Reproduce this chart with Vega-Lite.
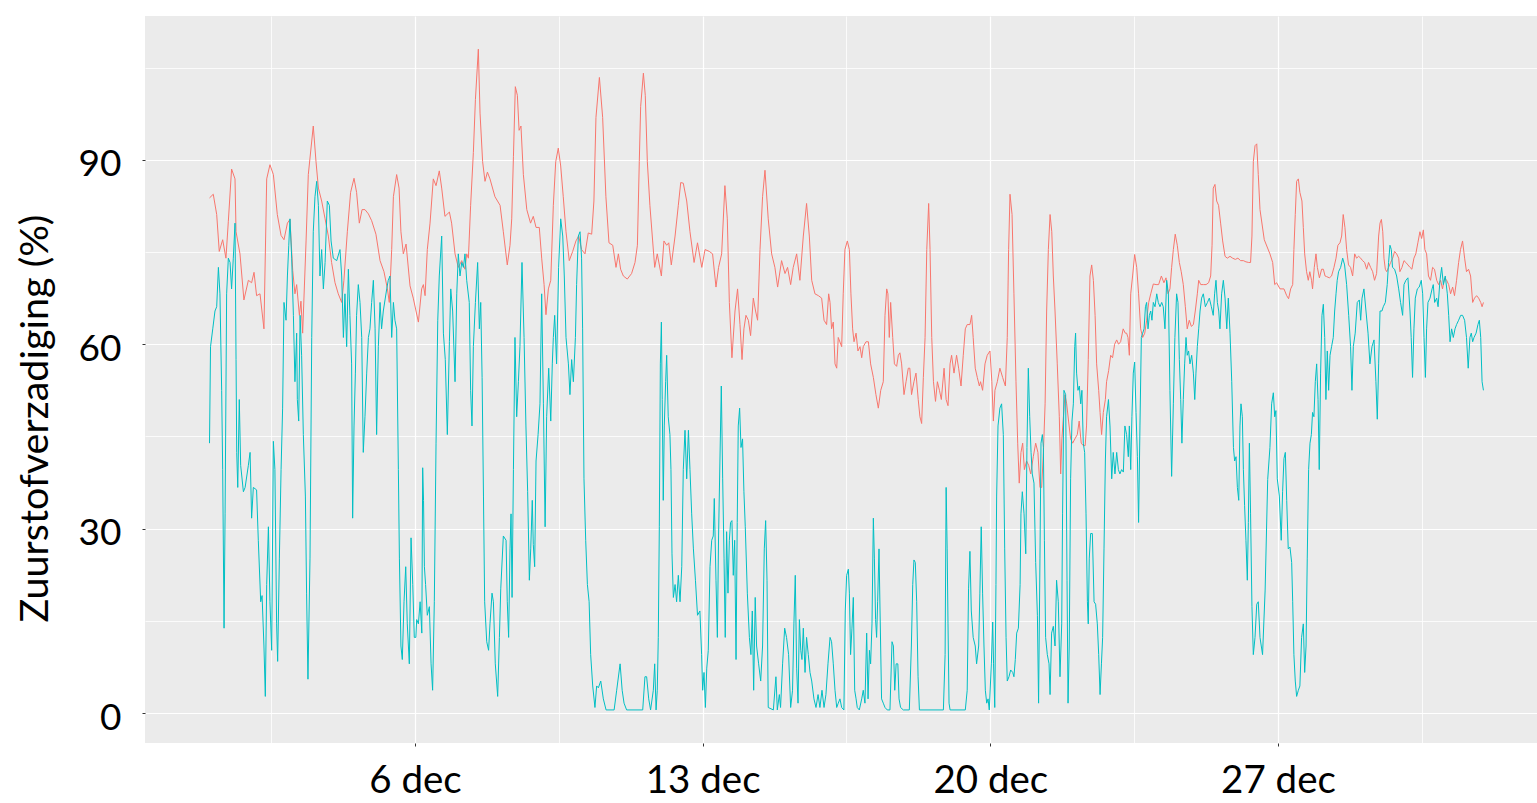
{
  "$schema": "https://vega.github.io/schema/vega-lite/v6.json",
  "width": 1403,
  "height": 727,
  "autosize": "none",
  "padding": {"left": 145, "top": 16, "right": 0, "bottom": 60},
  "background": "#FFFFFF",
  "config": {
    "view": {"fill": "#EBEBEB", "stroke": null},
    "axis": {"labelFont": "Lato", "titleFont": "Lato", "labelColor": "#000000", "titleColor": "#000000", "domain": false, "gridColor": "#FFFFFF"}
  },
  "datasets": {
    "boven": [
      {"h":0,"v":83.8},{"h":2.2,"v":84.4},{"h":4.2,"v":81.1},{"h":5.7,"v":75.1},{"h":7.7,"v":77},{"h":9.6,"v":74},{"h":11,"v":80},{"h":12.9,"v":88.5},{"h":14.9,"v":86.9},{"h":15.5,"v":78.3},{"h":17.8,"v":74.7},{"h":20.1,"v":67.2},{"h":22.7,"v":70.4},{"h":24.6,"v":70},{"h":26,"v":71.7},{"h":27.5,"v":67.9},{"h":29.5,"v":68.2},{"h":31.8,"v":62.5},{"h":33.4,"v":86.9},{"h":35.3,"v":89.2},{"h":37.3,"v":87.6},{"h":39.6,"v":81.1},{"h":41.8,"v":77.7},{"h":43.5,"v":77},{"h":45.5,"v":79.7},{"h":47,"v":80.3},{"h":48.6,"v":72},{"h":49.9,"v":68.2},{"h":50.9,"v":69.7},{"h":52.5,"v":64.7},{"h":53.4,"v":67},{"h":54.4,"v":61.8},{"h":56.4,"v":76.8},{"h":57.7,"v":87.6},{"h":60.6,"v":95.5},{"h":62.2,"v":89.7},{"h":63.6,"v":85.4},{"h":65.5,"v":83.3},{"h":67.5,"v":80.4},{"h":69.4,"v":77.6},{"h":71.3,"v":73.3},{"h":73.3,"v":70},{"h":75.2,"v":68.2},{"h":77.2,"v":66.8},{"h":78.5,"v":70.4},{"h":80.5,"v":78.3},{"h":82.4,"v":84.7},{"h":84.4,"v":87},{"h":85.9,"v":84.7},{"h":87.5,"v":79.7},{"h":89.1,"v":81.9},{"h":90.8,"v":81.9},{"h":92.8,"v":81.2},{"h":94.7,"v":80.1},{"h":97.2,"v":77.9},{"h":99.6,"v":73.6},{"h":101.9,"v":71.8},{"h":103.9,"v":69},{"h":105,"v":66.8},{"h":106.4,"v":75.4},{"h":107.4,"v":84},{"h":109.3,"v":87.6},{"h":110.7,"v":85.4},{"h":111.8,"v":78.3},{"h":113.2,"v":74.7},{"h":114.8,"v":76.3},{"h":117.1,"v":69.5},{"h":119,"v":67.5},{"h":122,"v":63.6},{"h":123.9,"v":69},{"h":124.9,"v":69.7},{"h":125.9,"v":67.9},{"h":127.2,"v":75.4},{"h":128.8,"v":79.7},{"h":130.7,"v":86.9},{"h":132.3,"v":85.8},{"h":134.2,"v":88.2},{"h":135.6,"v":85.4},{"h":137.5,"v":80.8},{"h":140.1,"v":81.5},{"h":141.4,"v":79.7},{"h":143.4,"v":74.7},{"h":145.3,"v":72.5},{"h":147.3,"v":73.6},{"h":149.2,"v":72.2},{"h":150.2,"v":74.7},{"h":151.2,"v":74},{"h":152.5,"v":82.6},{"h":154.1,"v":91.2},{"h":155.3,"v":99.8},{"h":157,"v":108},{"h":158,"v":97.6},{"h":159.5,"v":89.7},{"h":160.9,"v":86.5},{"h":162.3,"v":88},{"h":163.8,"v":86.9},{"h":166.7,"v":84},{"h":169.7,"v":82.6},{"h":171.6,"v":78.3},{"h":173.9,"v":72.9},{"h":175.5,"v":76.1},{"h":176.5,"v":80.4},{"h":177.5,"v":90.5},{"h":178.6,"v":101.9},{"h":179.8,"v":100.5},{"h":180.8,"v":94.8},{"h":181.9,"v":95.5},{"h":183.3,"v":87.6},{"h":185.3,"v":81.9},{"h":187.5,"v":79.7},{"h":189.1,"v":80.8},{"h":190.7,"v":79},{"h":192.6,"v":79},{"h":194,"v":74},{"h":195.4,"v":69.7},{"h":196.5,"v":64.8},{"h":197.9,"v":69},{"h":199.3,"v":70.4},{"h":200.8,"v":82.6},{"h":202.2,"v":89.7},{"h":203.7,"v":91.9},{"h":205.1,"v":89},{"h":206.6,"v":84},{"h":208.2,"v":78.3},{"h":210.1,"v":73.6},{"h":212.1,"v":75.1},{"h":214,"v":76.8},{"h":215.6,"v":77.6},{"h":217.3,"v":75.4},{"h":219.3,"v":74.7},{"h":221.2,"v":78.1},{"h":223.2,"v":77.9},{"h":224.5,"v":83.3},{"h":225.7,"v":96.9},{"h":227.7,"v":103.4},{"h":229.6,"v":96.9},{"h":231.5,"v":84},{"h":233.3,"v":76.5},{"h":235.5,"v":76.1},{"h":237.4,"v":72.5},{"h":238.8,"v":74.7},{"h":240.1,"v":72.2},{"h":241.7,"v":71.1},{"h":244,"v":70.6},{"h":246.5,"v":71.5},{"h":248.5,"v":73.3},{"h":249.9,"v":76.1},{"h":251,"v":89.7},{"h":251.8,"v":98.7},{"h":253.4,"v":104.1},{"h":254.5,"v":100.5},{"h":255.7,"v":89.7},{"h":257.2,"v":82.6},{"h":258.8,"v":76.8},{"h":260,"v":72.5},{"h":261.5,"v":74.7},{"h":263.9,"v":71.1},{"h":265.4,"v":76.8},{"h":267,"v":76.1},{"h":268.2,"v":76.5},{"h":269.7,"v":72.9},{"h":271.9,"v":77.6},{"h":273.8,"v":82.6},{"h":275.2,"v":86.3},{"h":276.7,"v":86.2},{"h":278.7,"v":83.3},{"h":280.6,"v":78.3},{"h":283,"v":73.3},{"h":285,"v":76.5},{"h":287.5,"v":72.5},{"h":289.4,"v":75.4},{"h":291.9,"v":75.1},{"h":293.8,"v":74.7},{"h":295.8,"v":69.3},{"h":297.3,"v":72.5},{"h":299.1,"v":74.7},{"h":301,"v":85.8},{"h":302.4,"v":80.4},{"h":303.6,"v":66.8},{"h":305.1,"v":57.8},{"h":306.9,"v":65.4},{"h":308.4,"v":69},{"h":309.8,"v":63.2},{"h":311,"v":57.5},{"h":312.1,"v":62.5},{"h":313.3,"v":64.7},{"h":314.7,"v":63.9},{"h":316,"v":61.4},{"h":317.6,"v":67.5},{"h":318.9,"v":65.4},{"h":320.1,"v":63.9},{"h":321.5,"v":75.4},{"h":323,"v":84},{"h":324.4,"v":88.3},{"h":326.3,"v":80.4},{"h":328.3,"v":74.7},{"h":330.2,"v":72.5},{"h":331.8,"v":69.3},{"h":334.1,"v":73.6},{"h":336.1,"v":71.5},{"h":337.6,"v":72.5},{"h":339.4,"v":69.7},{"h":340.9,"v":72.5},{"h":342.9,"v":74.7},{"h":344.8,"v":70.4},{"h":346.8,"v":77.6},{"h":348.7,"v":82.9},{"h":350.3,"v":77.6},{"h":351.7,"v":70.4},{"h":353.6,"v":68.2},{"h":355.6,"v":67.9},{"h":357.5,"v":67.5},{"h":358.9,"v":63.9},{"h":360.4,"v":63.2},{"h":361.6,"v":68.2},{"h":362.4,"v":66.8},{"h":363.3,"v":62.5},{"h":364.3,"v":63.6},{"h":365.3,"v":56.8},{"h":366.3,"v":56.1},{"h":367.2,"v":61.1},{"h":369.2,"v":59.6},{"h":370.1,"v":68.2},{"h":371.1,"v":75.4},{"h":372.5,"v":76.8},{"h":373.7,"v":75.4},{"h":374.6,"v":68.2},{"h":375.6,"v":62.5},{"h":376.4,"v":60.4},{"h":377.6,"v":61.8},{"h":378.7,"v":58.9},{"h":379.9,"v":59.6},{"h":380.9,"v":57.8},{"h":381.8,"v":59.6},{"h":383.4,"v":60.4},{"h":384.8,"v":60.4},{"h":386.1,"v":56.8},{"h":387.7,"v":54.6},{"h":389.2,"v":51.8},{"h":390.6,"v":49.6},{"h":392,"v":52.5},{"h":393.5,"v":53.9},{"h":394.5,"v":64.7},{"h":395.5,"v":69},{"h":396.2,"v":68.2},{"h":397,"v":61.1},{"h":397.8,"v":66.8},{"h":399,"v":61.1},{"h":400,"v":56.8},{"h":401.3,"v":56.4},{"h":402.3,"v":58.2},{"h":403.2,"v":58.6},{"h":404.2,"v":56.8},{"h":405.6,"v":51.8},{"h":406.8,"v":53.9},{"h":408.1,"v":56.1},{"h":409,"v":56.1},{"h":410,"v":51.8},{"h":411.4,"v":53.9},{"h":412.6,"v":55.3},{"h":413.9,"v":51},{"h":414.9,"v":48.2},{"h":415.9,"v":47.1},{"h":416.9,"v":54.6},{"h":417.9,"v":61.1},{"h":418.9,"v":75.4},{"h":420,"v":82.9},{"h":420.8,"v":75.4},{"h":421.8,"v":61.1},{"h":422.8,"v":53.9},{"h":424,"v":50.7},{"h":425.1,"v":53.9},{"h":426.3,"v":52.5},{"h":427.4,"v":51},{"h":429,"v":56.1},{"h":430.2,"v":51},{"h":431.3,"v":50},{"h":432.5,"v":56.8},{"h":433.4,"v":58.2},{"h":434.8,"v":55.3},{"h":436.3,"v":58.2},{"h":437.5,"v":56.1},{"h":438.9,"v":53.2},{"h":440.2,"v":58.2},{"h":441.4,"v":62.5},{"h":442.5,"v":63.2},{"h":444.1,"v":63.2},{"h":445.1,"v":64.7},{"h":446,"v":61.1},{"h":447.2,"v":56.1},{"h":448.4,"v":54.6},{"h":449.6,"v":53.2},{"h":450.3,"v":53.9},{"h":451.5,"v":52.5},{"h":452.9,"v":56.8},{"h":454.2,"v":58.2},{"h":455.8,"v":58.9},{"h":456.9,"v":53.9},{"h":457.8,"v":47.5},{"h":458.7,"v":52.5},{"h":460.1,"v":53.9},{"h":461.6,"v":56.1},{"h":463.2,"v":54.6},{"h":464.8,"v":53.2},{"h":465.9,"v":61.1},{"h":466.7,"v":75.4},{"h":467.5,"v":84.4},{"h":468.7,"v":81.1},{"h":469.8,"v":68.2},{"h":471,"v":53.9},{"h":472,"v":43.9},{"h":472.9,"v":37.4},{"h":473.9,"v":42.4},{"h":474.9,"v":43.9},{"h":475.9,"v":39.6},{"h":477.2,"v":41},{"h":478.4,"v":40.3},{"h":479.6,"v":38.9},{"h":481.1,"v":41.7},{"h":482.5,"v":43.9},{"h":483.8,"v":42.4},{"h":485,"v":36.7},{"h":486,"v":36.7},{"h":487,"v":42.4},{"h":488,"v":50.3},{"h":488.9,"v":65.4},{"h":489.9,"v":75.4},{"h":490.9,"v":81.1},{"h":491.9,"v":78.3},{"h":492.8,"v":71.1},{"h":493.8,"v":65.4},{"h":495.1,"v":56.8},{"h":496.3,"v":48.2},{"h":497.1,"v":38.9},{"h":497.8,"v":44.6},{"h":498.7,"v":48.2},{"h":499.6,"v":51.8},{"h":500.6,"v":50.3},{"h":501.7,"v":47.5},{"h":502.9,"v":44.6},{"h":504.1,"v":43.9},{"h":505.4,"v":44.6},{"h":506.8,"v":45.3},{"h":507.9,"v":47.5},{"h":509.1,"v":43.9},{"h":510.3,"v":43.5},{"h":511.4,"v":43.5},{"h":512.2,"v":46.7},{"h":513.2,"v":57.5},{"h":514.2,"v":71.1},{"h":515.2,"v":72.9},{"h":516.2,"v":70.4},{"h":517.2,"v":64.7},{"h":518.1,"v":56.8},{"h":519.3,"v":52.5},{"h":520.1,"v":48.9},{"h":521,"v":45.3},{"h":522,"v":48.9},{"h":523.2,"v":51},{"h":523.9,"v":53.9},{"h":525.1,"v":55.7},{"h":526.3,"v":58.2},{"h":527.4,"v":57.8},{"h":528.6,"v":60},{"h":529.8,"v":60.7},{"h":530.9,"v":60},{"h":532.1,"v":60.4},{"h":533.6,"v":62.5},{"h":534.8,"v":61.8},{"h":535.6,"v":61.8},{"h":536.4,"v":61.1},{"h":537.2,"v":58.2},{"h":538,"v":68.2},{"h":539.1,"v":71.1},{"h":540.3,"v":74.6},{"h":541.5,"v":72.5},{"h":542.6,"v":68.2},{"h":543.8,"v":62.5},{"h":545,"v":61.1},{"h":546.2,"v":61.8},{"h":547.3,"v":63.9},{"h":548.5,"v":66.8},{"h":549.7,"v":68.2},{"h":551.2,"v":69.8},{"h":552.8,"v":69.7},{"h":554.3,"v":69.7},{"h":555.9,"v":71.1},{"h":557.4,"v":70},{"h":558.6,"v":70.8},{"h":559.8,"v":68.2},{"h":560.9,"v":69},{"h":561.9,"v":72.5},{"h":562.9,"v":75.4},{"h":564,"v":77.9},{"h":565.2,"v":76.1},{"h":566.4,"v":73.3},{"h":567.5,"v":71.8},{"h":568.7,"v":69.7},{"h":569.9,"v":66.1},{"h":571,"v":62.5},{"h":572.2,"v":63.9},{"h":573.4,"v":62.9},{"h":574.6,"v":63.2},{"h":575.7,"v":65.4},{"h":576.9,"v":68.2},{"h":577.7,"v":70.4},{"h":578.9,"v":69.7},{"h":580.4,"v":69.7},{"h":582,"v":69.7},{"h":583.5,"v":70},{"h":584.7,"v":71.1},{"h":585.5,"v":76.1},{"h":586.2,"v":85.4},{"h":587.2,"v":86},{"h":588.2,"v":83.3},{"h":589.3,"v":82.6},{"h":590.5,"v":79.7},{"h":591.7,"v":76.8},{"h":593.1,"v":74.3},{"h":594.4,"v":74},{"h":596,"v":74.3},{"h":597.5,"v":74},{"h":599.1,"v":73.8},{"h":600.6,"v":74},{"h":602.2,"v":73.6},{"h":603.8,"v":73.6},{"h":605.3,"v":73.4},{"h":606.9,"v":73.3},{"h":608,"v":73.3},{"h":608.8,"v":77.6},{"h":609.6,"v":89.7},{"h":610.6,"v":92.3},{"h":611.6,"v":92.6},{"h":612.5,"v":87.6},{"h":613.5,"v":81.9},{"h":616,"v":77},{"h":619.3,"v":74.7},{"h":620.9,"v":73.3},{"h":622.1,"v":69.7},{"h":623.2,"v":70},{"h":625.2,"v":69},{"h":627.5,"v":69},{"h":629.1,"v":67.9},{"h":630.2,"v":67.4},{"h":631.4,"v":69},{"h":632.6,"v":69.7},{"h":633.3,"v":75.4},{"h":634.1,"v":81.1},{"h":634.9,"v":86.5},{"h":635.9,"v":86.9},{"h":636.8,"v":84.7},{"h":638,"v":83.3},{"h":638.8,"v":79},{"h":639.6,"v":74.7},{"h":640.7,"v":71.8},{"h":641.7,"v":70.4},{"h":642.6,"v":71.8},{"h":643.6,"v":70.4},{"h":644.2,"v":69},{"h":645.2,"v":72.5},{"h":646.2,"v":74.7},{"h":647,"v":72.5},{"h":648.2,"v":70.8},{"h":649.5,"v":72.2},{"h":650.5,"v":72.2},{"h":651.5,"v":71.1},{"h":652.4,"v":71},{"h":654,"v":70.8},{"h":655.3,"v":71.1},{"h":656.7,"v":72.5},{"h":657.9,"v":74},{"h":659,"v":76.1},{"h":660.2,"v":76.5},{"h":661.2,"v":77.6},{"h":662.1,"v":81.1},{"h":663.1,"v":79},{"h":664.1,"v":75.4},{"h":665.2,"v":72.9},{"h":666.4,"v":72.5},{"h":667.6,"v":71.1},{"h":668.8,"v":74.7},{"h":669.9,"v":74},{"h":671.1,"v":74.3},{"h":672.3,"v":74},{"h":673.4,"v":73.6},{"h":674.6,"v":73.3},{"h":675.8,"v":72.2},{"h":676.9,"v":73.3},{"h":678.1,"v":72.5},{"h":679.3,"v":71.8},{"h":680.4,"v":70.4},{"h":681.6,"v":71.5},{"h":682.8,"v":77.6},{"h":683.6,"v":79.7},{"h":684.4,"v":80.3},{"h":685.2,"v":78.3},{"h":685.9,"v":74},{"h":686.7,"v":72.2},{"h":687.5,"v":71.8},{"h":688.6,"v":72.5},{"h":689.8,"v":73.3},{"h":691,"v":74},{"h":692.1,"v":75.1},{"h":693.3,"v":74.7},{"h":694.5,"v":74},{"h":695.2,"v":71.8},{"h":696.4,"v":72.5},{"h":697.6,"v":73.6},{"h":698.7,"v":73.3},{"h":699.9,"v":72.9},{"h":701.1,"v":72.5},{"h":702.2,"v":72.2},{"h":703.4,"v":74},{"h":704.5,"v":74.7},{"h":705.7,"v":76.5},{"h":706.9,"v":78.3},{"h":707.9,"v":77.2},{"h":708.9,"v":78.6},{"h":709.8,"v":75.4},{"h":710.8,"v":74.7},{"h":711.9,"v":71.1},{"h":713.1,"v":70.4},{"h":714.3,"v":72.5},{"h":715.4,"v":72.2},{"h":716.7,"v":70.4},{"h":717.8,"v":69.7},{"h":719,"v":70.4},{"h":720.1,"v":69},{"h":721.3,"v":70.8},{"h":722.5,"v":70.4},{"h":723.7,"v":69.7},{"h":724.8,"v":68.2},{"h":726,"v":69.3},{"h":727.1,"v":67.9},{"h":728.3,"v":70.4},{"h":729.5,"v":73.3},{"h":730.6,"v":75.4},{"h":731.8,"v":76.8},{"h":733,"v":74},{"h":734.1,"v":71.8},{"h":735.3,"v":72.2},{"h":736.5,"v":71.1},{"h":737.7,"v":66.8},{"h":738.8,"v":67.5},{"h":740,"v":67.9},{"h":741.2,"v":67.5},{"h":742.4,"v":66.8},{"h":743.2,"v":66.1},{"h":744,"v":66.8}
    ],
    "onder": [
      {"h":0,"v":43.9},{"h":0.6,"v":59.6},{"h":1.9,"v":62.5},{"h":3.2,"v":65.4},{"h":4.2,"v":66.1},{"h":5.2,"v":72.5},{"h":6.1,"v":68.2},{"h":7.1,"v":52.5},{"h":7.7,"v":39.6},{"h":8.5,"v":13.8},{"h":9.1,"v":32.4},{"h":10,"v":68.2},{"h":11,"v":74},{"h":12,"v":73.3},{"h":12.9,"v":69},{"h":13.9,"v":74},{"h":14.9,"v":79.7},{"h":15.5,"v":57.5},{"h":15.9,"v":42.4},{"h":16.5,"v":36.7},{"h":17.4,"v":51},{"h":18.2,"v":40.3},{"h":19.8,"v":36},{"h":20.8,"v":36.7},{"h":22.7,"v":40.3},{"h":23.7,"v":42.4},{"h":24.6,"v":31.7},{"h":25.6,"v":36.7},{"h":27.5,"v":36.3},{"h":28.5,"v":28.1},{"h":29.9,"v":18.1},{"h":30.7,"v":19.1},{"h":31.8,"v":10.9},{"h":32.6,"v":2.7},{"h":33.4,"v":20.9},{"h":34.4,"v":30.3},{"h":35.3,"v":18.1},{"h":36.3,"v":10.2},{"h":37.3,"v":44.2},{"h":38.2,"v":39.6},{"h":39.2,"v":14.5},{"h":39.8,"v":8.4},{"h":40.8,"v":25.2},{"h":41.8,"v":39.6},{"h":42.7,"v":49.6},{"h":43.5,"v":66.8},{"h":44.7,"v":63.9},{"h":45.5,"v":71.1},{"h":46.3,"v":76.1},{"h":47,"v":80.4},{"h":48,"v":74},{"h":49,"v":64.7},{"h":49.9,"v":53.9},{"h":50.9,"v":61.8},{"h":51.3,"v":51},{"h":52.1,"v":47.5},{"h":52.9,"v":64.7},{"h":53.8,"v":58.2},{"h":54.8,"v":45.3},{"h":56,"v":35.3},{"h":56.7,"v":19.5},{"h":57.5,"v":5.5},{"h":58.7,"v":25.2},{"h":59.7,"v":61.1},{"h":60.6,"v":78.3},{"h":61.6,"v":84},{"h":62.6,"v":86.5},{"h":63.6,"v":82.6},{"h":64.5,"v":71.1},{"h":65.5,"v":75.4},{"h":66.5,"v":69},{"h":67.5,"v":73.3},{"h":68.8,"v":83.3},{"h":70,"v":82.6},{"h":71,"v":76.8},{"h":72.3,"v":74},{"h":74.3,"v":73.6},{"h":76.2,"v":75.4},{"h":77.2,"v":71.1},{"h":78.2,"v":61.1},{"h":79.1,"v":68.2},{"h":80.1,"v":59.6},{"h":81.1,"v":72.2},{"h":82,"v":64.7},{"h":83,"v":56.8},{"h":83.6,"v":31.7},{"h":84.4,"v":46.7},{"h":85.2,"v":55.3},{"h":85.9,"v":64.7},{"h":86.9,"v":69.7},{"h":87.9,"v":66.8},{"h":88.9,"v":61.1},{"h":89.8,"v":42.4},{"h":90.8,"v":48.2},{"h":91.8,"v":55.3},{"h":92.8,"v":61.1},{"h":93.7,"v":62.5},{"h":94.7,"v":66.8},{"h":95.7,"v":70.4},{"h":96.7,"v":62.5},{"h":97.6,"v":45.3},{"h":98.6,"v":59.6},{"h":99.6,"v":66.8},{"h":100.5,"v":62.5},{"h":101.5,"v":65.4},{"h":103.5,"v":69},{"h":104.4,"v":70.4},{"h":105.4,"v":71.1},{"h":106.4,"v":61.1},{"h":107.4,"v":66.8},{"h":108.3,"v":63.9},{"h":109.3,"v":62.5},{"h":110.3,"v":39.6},{"h":110.9,"v":25.2},{"h":111.8,"v":10.9},{"h":112.6,"v":8.7},{"h":113.6,"v":18.1},{"h":114.6,"v":23.8},{"h":115.5,"v":14.5},{"h":116.7,"v":8},{"h":117.7,"v":28.5},{"h":118.7,"v":20.9},{"h":119.6,"v":12.3},{"h":120.5,"v":12.3},{"h":121,"v":15.2},{"h":122,"v":14.5},{"h":123,"v":18.1},{"h":124,"v":13},{"h":124.5,"v":39.9},{"h":125,"v":34.6},{"h":125.5,"v":23.8},{"h":126.2,"v":20.9},{"h":127.2,"v":15.9},{"h":128.4,"v":17.3},{"h":129.4,"v":8},{"h":130.3,"v":3.7},{"h":131.3,"v":18.1},{"h":132.3,"v":43.9},{"h":133.3,"v":63.9},{"h":134.2,"v":71.1},{"h":135.6,"v":77.6},{"h":136.6,"v":61.8},{"h":137.7,"v":57.5},{"h":138.9,"v":45.3},{"h":140.1,"v":60.4},{"h":140.9,"v":69},{"h":142,"v":65.4},{"h":143.4,"v":53.9},{"h":144.4,"v":68.2},{"h":145.3,"v":74.7},{"h":146.3,"v":71.1},{"h":147.3,"v":73.3},{"h":148.3,"v":72.5},{"h":149.2,"v":74.7},{"h":150.2,"v":70.4},{"h":151.7,"v":66.8},{"h":152.5,"v":52.5},{"h":153.3,"v":46.7},{"h":154.1,"v":59.6},{"h":155.3,"v":66.8},{"h":156.6,"v":73.3},{"h":157.6,"v":62.5},{"h":158.4,"v":66.8},{"h":159.2,"v":54.6},{"h":160,"v":35.3},{"h":160.7,"v":18.1},{"h":161.9,"v":11.6},{"h":163,"v":10.2},{"h":163.8,"v":14.5},{"h":165,"v":19.5},{"h":165.8,"v":18.1},{"h":166.9,"v":8},{"h":168.3,"v":2.7},{"h":169.3,"v":12.3},{"h":170.1,"v":20.2},{"h":171.6,"v":28.8},{"h":173.2,"v":28.1},{"h":173.9,"v":18.1},{"h":174.7,"v":12.3},{"h":175.5,"v":26.7},{"h":176.1,"v":32.4},{"h":176.7,"v":18.8},{"h":177.5,"v":39.6},{"h":178.4,"v":61.1},{"h":179.4,"v":48.2},{"h":180.4,"v":53.9},{"h":181.3,"v":59.6},{"h":182.5,"v":73.3},{"h":183.7,"v":61.1},{"h":184.8,"v":46.7},{"h":185.8,"v":36},{"h":186.8,"v":21.6},{"h":187.6,"v":26.7},{"h":188.5,"v":34.6},{"h":189.1,"v":27.4},{"h":189.9,"v":23.8},{"h":190.7,"v":41},{"h":191.9,"v":45.3},{"h":193,"v":50.3},{"h":194,"v":68.2},{"h":195,"v":50.3},{"h":196,"v":30.3},{"h":196.9,"v":48.2},{"h":198.1,"v":56.1},{"h":199.3,"v":47.5},{"h":200.2,"v":56.8},{"h":200.8,"v":61.1},{"h":201.6,"v":64.7},{"h":202.7,"v":56.8},{"h":203.9,"v":72.5},{"h":205.1,"v":80.4},{"h":206.3,"v":77.6},{"h":207.2,"v":71.1},{"h":208.2,"v":61.1},{"h":209.6,"v":56.8},{"h":210.5,"v":51.8},{"h":211.5,"v":57.5},{"h":212.5,"v":53.9},{"h":213.7,"v":61.1},{"h":214.4,"v":69.7},{"h":215.4,"v":77.6},{"h":216.4,"v":78.3},{"h":217.3,"v":74},{"h":217.9,"v":62.5},{"h":218.7,"v":38.1},{"h":219.7,"v":28.1},{"h":220.7,"v":20.9},{"h":221.7,"v":18.1},{"h":222.6,"v":9.5},{"h":223.8,"v":4.4},{"h":225.1,"v":0.9},{"h":226.1,"v":4.4},{"h":227.1,"v":4.1},{"h":228.5,"v":5.2},{"h":230,"v":2.3},{"h":231.6,"v":0.5},{"h":236.3,"v":0.5},{"h":237.8,"v":3.7},{"h":239.8,"v":8},{"h":241,"v":3.7},{"h":242.1,"v":1.6},{"h":243.6,"v":0.5},{"h":253,"v":0.5},{"h":254.3,"v":5.9},{"h":255.3,"v":5.9},{"h":256.5,"v":2.3},{"h":257.6,"v":0.5},{"h":259.2,"v":3.7},{"h":260,"v":8},{"h":260.8,"v":0.5},{"h":261.5,"v":3.7},{"h":262.1,"v":12.3},{"h":262.7,"v":30.3},{"h":263.3,"v":56.8},{"h":263.9,"v":63.6},{"h":264.4,"v":51},{"h":265,"v":34.6},{"h":265.6,"v":46.7},{"h":266.4,"v":53.9},{"h":267,"v":58.2},{"h":267.9,"v":48.2},{"h":268.9,"v":45.3},{"h":269.5,"v":39.6},{"h":270.1,"v":25.9},{"h":270.9,"v":18.8},{"h":271.9,"v":20.9},{"h":272.8,"v":18.1},{"h":273.8,"v":22.4},{"h":274.8,"v":18.1},{"h":275.8,"v":23.8},{"h":276.7,"v":39.6},{"h":277.7,"v":46},{"h":278.7,"v":38.1},{"h":279.7,"v":46},{"h":280.6,"v":39.6},{"h":281.6,"v":32.4},{"h":282.6,"v":26.7},{"h":283.8,"v":21.6},{"h":285,"v":15.9},{"h":286.4,"v":16.6},{"h":287.4,"v":9.5},{"h":288,"v":3.7},{"h":288.8,"v":6.6},{"h":289.6,"v":0.9},{"h":290.4,"v":7.3},{"h":291.3,"v":10.2},{"h":292.3,"v":23.8},{"h":293.3,"v":28.1},{"h":294.2,"v":28.8},{"h":294.8,"v":34.9},{"h":295.8,"v":21.6},{"h":296.6,"v":12.3},{"h":297.3,"v":28.8},{"h":298.1,"v":41},{"h":298.9,"v":53.2},{"h":299.7,"v":38.1},{"h":300.5,"v":25.2},{"h":301.2,"v":12.3},{"h":302,"v":29.5},{"h":302.8,"v":19.5},{"h":303.6,"v":28.1},{"h":304.3,"v":31},{"h":305.1,"v":31.3},{"h":305.9,"v":22.4},{"h":306.7,"v":28.1},{"h":307.5,"v":8.7},{"h":308.2,"v":31},{"h":308.8,"v":46.7},{"h":309.6,"v":49.6},{"h":310.4,"v":43.2},{"h":311.3,"v":44.6},{"h":312.1,"v":36},{"h":312.9,"v":30.3},{"h":314.1,"v":19.5},{"h":315.3,"v":12.3},{"h":316.2,"v":9.5},{"h":317,"v":16.6},{"h":317.8,"v":3.7},{"h":318.7,"v":18.8},{"h":319.5,"v":10.9},{"h":320.7,"v":8},{"h":321.9,"v":5.2},{"h":323,"v":10.9},{"h":324,"v":26.7},{"h":324.8,"v":31.3},{"h":325.6,"v":21.6},{"h":326.3,"v":0.9},{"h":329.3,"v":0.5},{"h":330.8,"v":5.9},{"h":331.6,"v":0.5},{"h":332.8,"v":3},{"h":333.5,"v":0.9},{"h":334.7,"v":8},{"h":335.9,"v":13.8},{"h":337,"v":12.3},{"h":338.2,"v":9.5},{"h":339.4,"v":0.9},{"h":340.5,"v":3.7},{"h":341.3,"v":14.5},{"h":342.1,"v":22.4},{"h":342.9,"v":7.3},{"h":343.7,"v":1.6},{"h":344.5,"v":15.2},{"h":345.3,"v":10.2},{"h":346,"v":8.7},{"h":346.8,"v":13.8},{"h":347.8,"v":6.6},{"h":348.7,"v":12.3},{"h":349.7,"v":9.5},{"h":350.7,"v":6.6},{"h":351.7,"v":5.2},{"h":353,"v":2.3},{"h":354.2,"v":0.9},{"h":355.4,"v":3},{"h":356.5,"v":0.9},{"h":357.7,"v":3.7},{"h":358.9,"v":0.9},{"h":360,"v":3},{"h":361.2,"v":8},{"h":362.4,"v":12.3},{"h":363.3,"v":11.6},{"h":364.3,"v":8},{"h":365.3,"v":3.7},{"h":366.3,"v":0.9},{"h":367.2,"v":1.6},{"h":368.2,"v":2.3},{"h":369.2,"v":0.9},{"h":370.5,"v":0.5},{"h":371.3,"v":16.6},{"h":372.1,"v":22.4},{"h":373.1,"v":23.4},{"h":373.7,"v":19.5},{"h":374.4,"v":9.5},{"h":375.2,"v":13.8},{"h":376,"v":18.8},{"h":376.8,"v":3.7},{"h":377.6,"v":2.3},{"h":378.3,"v":0.9},{"h":379.5,"v":0.5},{"h":380.9,"v":2.3},{"h":381.8,"v":3.7},{"h":382.8,"v":1.6},{"h":383.8,"v":13},{"h":384.6,"v":2.3},{"h":385.4,"v":10.2},{"h":386.1,"v":8},{"h":386.9,"v":14.5},{"h":387.7,"v":31.7},{"h":388.3,"v":25.2},{"h":389,"v":15.2},{"h":389.6,"v":12.3},{"h":390.2,"v":18.1},{"h":391,"v":26.7},{"h":391.6,"v":16.6},{"h":392.5,"v":2.3},{"h":393.5,"v":1.6},{"h":394.5,"v":0.9},{"h":395.8,"v":0.5},{"h":397.4,"v":0.5},{"h":398.6,"v":11.6},{"h":399.4,"v":10.9},{"h":400.2,"v":3.7},{"h":401,"v":8},{"h":402,"v":8},{"h":402.7,"v":2.3},{"h":403.6,"v":0.9},{"h":405.2,"v":0.5},{"h":408.7,"v":0.5},{"h":409.9,"v":10.9},{"h":410.7,"v":20.9},{"h":411.4,"v":24.9},{"h":412.2,"v":24.5},{"h":413,"v":18.1},{"h":413.8,"v":5.9},{"h":414.6,"v":0.5},{"h":428.6,"v":0.5},{"h":429.6,"v":9.5},{"h":430.2,"v":36.7},{"h":430.8,"v":26.7},{"h":431.3,"v":14.5},{"h":431.9,"v":1.6},{"h":432.5,"v":0.5},{"h":441.4,"v":0.5},{"h":442.5,"v":3.7},{"h":443.3,"v":20.2},{"h":444.1,"v":26.3},{"h":444.9,"v":16.6},{"h":446,"v":12.3},{"h":447.2,"v":10.9},{"h":448,"v":8},{"h":449.2,"v":10.9},{"h":449.9,"v":19.5},{"h":450.7,"v":30.3},{"h":451.5,"v":19.5},{"h":452.3,"v":10.9},{"h":453.1,"v":3.7},{"h":453.9,"v":1.6},{"h":454.7,"v":2.3},{"h":455.4,"v":0.5},{"h":456.6,"v":8},{"h":457.4,"v":14.8},{"h":457.9,"v":8},{"h":458.6,"v":0.9},{"h":459.3,"v":20.9},{"h":459.7,"v":35.3},{"h":460.5,"v":46.7},{"h":461.6,"v":49.6},{"h":462.6,"v":50.3},{"h":463.6,"v":45.3},{"h":464.4,"v":26.7},{"h":465.2,"v":12.3},{"h":465.9,"v":5.2},{"h":466.9,"v":5.9},{"h":467.9,"v":7},{"h":469.1,"v":6.6},{"h":469.8,"v":5.9},{"h":470.6,"v":8.7},{"h":471.4,"v":13},{"h":472.4,"v":13.8},{"h":473.4,"v":20.9},{"h":473.9,"v":32.4},{"h":474.7,"v":36},{"h":475.7,"v":32.4},{"h":476.7,"v":25.9},{"h":477.4,"v":43.2},{"h":478.2,"v":56.1},{"h":479,"v":48.2},{"h":479.8,"v":42.4},{"h":480.5,"v":38.9},{"h":481.5,"v":37.4},{"h":482.5,"v":24.5},{"h":483.5,"v":15.9},{"h":484.2,"v":1.6},{"h":485,"v":25.2},{"h":485.6,"v":43.9},{"h":486.4,"v":45.3},{"h":487,"v":43.2},{"h":487.6,"v":28.1},{"h":488.3,"v":12.3},{"h":489.3,"v":9.5},{"h":490.3,"v":8},{"h":490.9,"v":3},{"h":491.8,"v":13},{"h":492.8,"v":14.1},{"h":493.8,"v":10.9},{"h":494.7,"v":21.6},{"h":495.7,"v":18.1},{"h":496.7,"v":5.9},{"h":497.7,"v":14.5},{"h":498.2,"v":32.4},{"h":499,"v":52.5},{"h":500,"v":51.8},{"h":500.8,"v":21.6},{"h":501.4,"v":1.6},{"h":502.1,"v":10.9},{"h":502.9,"v":38.1},{"h":503.7,"v":47.5},{"h":504.5,"v":50.3},{"h":505.3,"v":59.6},{"h":505.8,"v":61.8},{"h":506.4,"v":55.3},{"h":507.2,"v":52.5},{"h":508,"v":53.2},{"h":508.8,"v":50.3},{"h":509.5,"v":52.5},{"h":510.3,"v":43.9},{"h":511.1,"v":42.4},{"h":511.9,"v":32.4},{"h":512.7,"v":18.1},{"h":513.2,"v":14.5},{"h":513.8,"v":25.2},{"h":514.6,"v":29.2},{"h":515.6,"v":29.2},{"h":516.6,"v":18.1},{"h":517.5,"v":17.7},{"h":518.5,"v":14.5},{"h":519.3,"v":9.5},{"h":520.1,"v":3},{"h":520.9,"v":8},{"h":521.6,"v":12.3},{"h":522.4,"v":26.7},{"h":523.2,"v":41},{"h":523.9,"v":48.2},{"h":525,"v":51},{"h":525.9,"v":46.7},{"h":526.9,"v":38.1},{"h":527.8,"v":42.4},{"h":528.8,"v":38.9},{"h":529.8,"v":42.4},{"h":530.8,"v":39.6},{"h":531.7,"v":38.9},{"h":532.7,"v":39.6},{"h":533.7,"v":39.2},{"h":534.6,"v":46.7},{"h":535.6,"v":45.3},{"h":536.6,"v":41.7},{"h":537.2,"v":46.7},{"h":538,"v":39.6},{"h":538.7,"v":48.2},{"h":539.5,"v":55.3},{"h":540.3,"v":57.1},{"h":541.1,"v":48.9},{"h":541.9,"v":41.7},{"h":542.6,"v":31},{"h":543.4,"v":46.7},{"h":544.2,"v":61.1},{"h":545,"v":61.8},{"h":545.8,"v":62.5},{"h":546.6,"v":66.1},{"h":547.3,"v":66.8},{"h":548.1,"v":62.5},{"h":548.9,"v":64.7},{"h":549.7,"v":65.4},{"h":550.4,"v":63.9},{"h":551.2,"v":66.8},{"h":552.2,"v":66.1},{"h":553.2,"v":68.2},{"h":554.1,"v":66.8},{"h":555.1,"v":66.1},{"h":556.1,"v":66.8},{"h":557,"v":66.1},{"h":558,"v":62.5},{"h":559,"v":70.4},{"h":560,"v":68.2},{"h":560.9,"v":52.5},{"h":561.9,"v":38.5},{"h":562.9,"v":50.3},{"h":563.8,"v":61.1},{"h":564.8,"v":68.2},{"h":565.6,"v":66.8},{"h":566.4,"v":57.5},{"h":567.2,"v":51},{"h":567.9,"v":43.9},{"h":568.7,"v":51},{"h":569.5,"v":56.8},{"h":570.3,"v":61.1},{"h":571,"v":58.2},{"h":571.8,"v":58.9},{"h":572.6,"v":56.8},{"h":573.6,"v":58.2},{"h":574.6,"v":55.3},{"h":575.4,"v":51},{"h":576.1,"v":55.3},{"h":576.9,"v":59.6},{"h":577.7,"v":62.5},{"h":578.5,"v":65.4},{"h":579.4,"v":67.5},{"h":580.4,"v":68.2},{"h":581.6,"v":66.1},{"h":582.8,"v":66.8},{"h":583.9,"v":67.5},{"h":585.1,"v":66.1},{"h":586.2,"v":64.7},{"h":587,"v":68.2},{"h":587.8,"v":70.4},{"h":588.6,"v":66.8},{"h":589.4,"v":65.4},{"h":590.1,"v":62.5},{"h":591.1,"v":68.2},{"h":592.1,"v":70.4},{"h":593.1,"v":67.5},{"h":594.1,"v":62.5},{"h":595,"v":67.5},{"h":596,"v":61.8},{"h":597,"v":53.9},{"h":598,"v":43.2},{"h":598.7,"v":41},{"h":599.5,"v":41.7},{"h":600.3,"v":36.7},{"h":601.1,"v":34.6},{"h":601.8,"v":46.7},{"h":602.4,"v":50.3},{"h":603.2,"v":48.2},{"h":603.8,"v":39.6},{"h":604.5,"v":33.8},{"h":605.3,"v":28.1},{"h":606.1,"v":21.6},{"h":606.7,"v":31},{"h":607.3,"v":43.9},{"h":608,"v":32.4},{"h":608.8,"v":17.3},{"h":609.6,"v":9.5},{"h":610.6,"v":12.3},{"h":611.6,"v":17.7},{"h":612.5,"v":18.1},{"h":613.5,"v":12.3},{"h":615,"v":9.5},{"h":616.5,"v":20},{"h":618,"v":38},{"h":619.3,"v":43.2},{"h":620.3,"v":50.3},{"h":621.3,"v":52.1},{"h":622.1,"v":48.2},{"h":622.8,"v":49.2},{"h":623.6,"v":38.1},{"h":624.8,"v":35.3},{"h":625.9,"v":28.1},{"h":626.7,"v":36},{"h":627.5,"v":41.4},{"h":628.3,"v":42.4},{"h":629.1,"v":34.6},{"h":630,"v":26.7},{"h":631,"v":27},{"h":632,"v":24.5},{"h":632.6,"v":18.1},{"h":633.3,"v":9.5},{"h":634.1,"v":5.2},{"h":634.9,"v":2.7},{"h":635.9,"v":3.7},{"h":636.8,"v":4.4},{"h":637.8,"v":12.3},{"h":638.8,"v":14.5},{"h":639.6,"v":6.6},{"h":640.4,"v":10.9},{"h":641.1,"v":25.2},{"h":641.9,"v":39.6},{"h":642.7,"v":43.9},{"h":643.5,"v":45.3},{"h":644.2,"v":48.9},{"h":645,"v":48.2},{"h":645.8,"v":53.9},{"h":646.6,"v":56.8},{"h":647.4,"v":51},{"h":648.1,"v":39.6},{"h":648.9,"v":55.3},{"h":649.7,"v":64.7},{"h":650.5,"v":66.5},{"h":651.3,"v":61.1},{"h":652,"v":51},{"h":652.8,"v":58.9},{"h":653.6,"v":52.5},{"h":654.4,"v":58.2},{"h":655.3,"v":59.6},{"h":656.3,"v":61.1},{"h":657.1,"v":65.4},{"h":657.9,"v":68.2},{"h":658.6,"v":70.4},{"h":659.4,"v":71.8},{"h":660.6,"v":72.5},{"h":661.8,"v":74},{"h":662.9,"v":72.9},{"h":664.1,"v":69.7},{"h":665.3,"v":64.7},{"h":666.4,"v":59.6},{"h":667.2,"v":52.5},{"h":668,"v":59.6},{"h":669.1,"v":61.8},{"h":670.3,"v":66.8},{"h":671.5,"v":67.2},{"h":672.3,"v":63.9},{"h":673.1,"v":67.5},{"h":674.2,"v":69},{"h":675.4,"v":65.4},{"h":676.6,"v":61.8},{"h":677.7,"v":56.8},{"h":678.9,"v":59.6},{"h":680.1,"v":60.7},{"h":681.2,"v":53.9},{"h":682,"v":47.8},{"h":682.8,"v":56.8},{"h":683.6,"v":65.4},{"h":684.7,"v":65.4},{"h":685.5,"v":66.1},{"h":686.7,"v":66.8},{"h":687.8,"v":69.7},{"h":688.6,"v":73.3},{"h":689.4,"v":76.1},{"h":690.2,"v":75.4},{"h":690.9,"v":72.5},{"h":692.1,"v":72.2},{"h":693.3,"v":71.1},{"h":694.5,"v":69},{"h":695.6,"v":66.8},{"h":696.8,"v":64.7},{"h":697.6,"v":69.7},{"h":698.7,"v":70.4},{"h":699.9,"v":70.8},{"h":701.1,"v":65.4},{"h":701.8,"v":61.1},{"h":702.6,"v":54.6},{"h":703.4,"v":62.5},{"h":704.2,"v":67.5},{"h":705.4,"v":69},{"h":706.5,"v":69.3},{"h":707.7,"v":70.4},{"h":708.5,"v":68.2},{"h":709.3,"v":61.1},{"h":710.1,"v":54.6},{"h":710.8,"v":62.5},{"h":711.6,"v":66.8},{"h":712.8,"v":67.5},{"h":714,"v":69},{"h":714.7,"v":69.7},{"h":715.5,"v":66.8},{"h":716.7,"v":67.5},{"h":717.5,"v":66.1},{"h":718.6,"v":70.4},{"h":719.6,"v":72.5},{"h":720.6,"v":69.7},{"h":721.7,"v":71.1},{"h":722.9,"v":68.2},{"h":723.7,"v":64.7},{"h":724.5,"v":60.4},{"h":725.4,"v":62.5},{"h":726.4,"v":61.1},{"h":727.4,"v":62.5},{"h":728.3,"v":63.2},{"h":729.5,"v":63.9},{"h":730.7,"v":64.7},{"h":731.8,"v":64.7},{"h":733,"v":63.9},{"h":734.1,"v":61.1},{"h":735.1,"v":56.1},{"h":736.1,"v":61.1},{"h":736.9,"v":61.8},{"h":737.7,"v":60.4},{"h":738.5,"v":61.1},{"h":739.7,"v":61.8},{"h":740.8,"v":63.2},{"h":741.6,"v":63.9},{"h":742.4,"v":61.1},{"h":743.2,"v":53.9},{"h":744,"v":52.5}
    ]
  },
  "encoding": {
    "x": {
      "field": "h",
      "type": "quantitative",
      "scale": {"domain": [-37.67, 781.7], "nice": false, "zero": false},
      "axis": {
        "title": null,
        "values": [36, 120, 204, 288, 372, 456, 540, 624, 708],
        "labelExpr": "datum.value == 120 ? '6 dec' : datum.value == 288 ? '13 dec' : datum.value == 456 ? '20 dec' : datum.value == 624 ? '27 dec' : ''",
        "labelFontSize": 38.5,
        "labelPadding": 16,
        "labelOverlap": false,
        "labelFlush": false,
        "labelBound": false,
        "tickSize": 3,
        "tickColor": "#333333",
        "tickOpacity": {"condition": {"test": "(datum.value - 120) % 168 == 0", "value": 1}, "value": 0},
        "gridWidth": {"condition": {"test": "(datum.value - 120) % 168 == 0", "value": 1.2}, "value": 0.8}
      }
    },
    "y": {
      "field": "v",
      "type": "quantitative",
      "scale": {"domain": [-4.88, 113.4], "nice": false, "zero": false},
      "axis": {
        "title": "Zuurstofverzadiging (%)",
        "titleFontSize": 39.5,
        "titleFontWeight": "normal",
        "titleAngle": 270,
        "titleAlign": "center",
        "titleBaseline": "alphabetic",
        "titleX": -98,
        "titleY": 402,
        "values": [0, 15, 30, 45, 60, 75, 90, 105],
        "labelExpr": "datum.value % 30 == 0 ? datum.label : ''",
        "labelFontSize": 37,
        "labelPadding": 21,
        "labelBaseline": "middle",
        "labelOffset": 5,
        "labelOverlap": false,
        "labelFlush": false,
        "labelBound": false,
        "tickSize": 3,
        "tickColor": "#333333",
        "tickOpacity": {"condition": {"test": "datum.value % 30 == 0", "value": 1}, "value": 0},
        "gridWidth": {"condition": {"test": "datum.value % 30 == 0", "value": 1.2}, "value": 0.8}
      }
    }
  },
  "layer": [
    {"data": {"name": "boven"}, "mark": {"type": "line", "color": "#F8766D", "strokeWidth": 1}, "encoding": {}},
    {"data": {"name": "onder"}, "mark": {"type": "line", "color": "#00BFC4", "strokeWidth": 1}, "encoding": {}}
  ]
}
